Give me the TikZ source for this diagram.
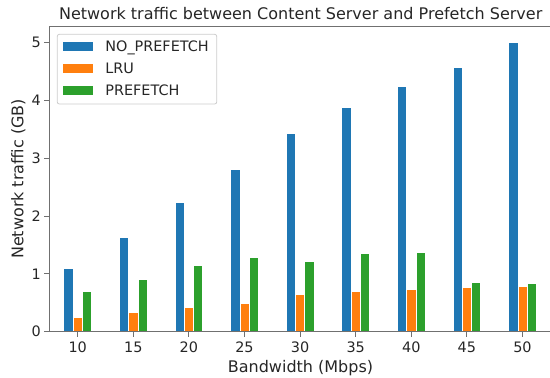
\documentclass[tikz,border=0pt]{standalone}
\usepackage{fontspec}
\setmainfont{DejaVu Sans}
\usepackage{xcolor}
\usetikzlibrary{positioning}

\definecolor{noprefetch}{HTML}{1F77B4}
\definecolor{lru}{HTML}{FF7F0E}
\definecolor{prefetch}{HTML}{2CA02C}
\definecolor{inkgray}{HTML}{262626}
\definecolor{spinegray}{HTML}{707070}

\begin{document}
\begin{tikzpicture}[
		x=1pt, y=1pt,
		text=inkgray,
		bar/.style={
			draw=white,
			line width=0.7pt
		},
		spine/.style={
			draw=spinegray,
			line width=1.2pt
		},
		tickmark/.style={
			draw=spinegray,
			line width=1pt
		},
		ticklabel/.style={
			inner sep=0pt,
			font=\fontsize{14.4}{17}\selectfont
		},
		axislabel/.style={
			inner sep=0pt,
			font=\fontsize{16}{19}\selectfont
		},
		legendbox/.style={
			draw=black!20,
			fill=white,
			rounded corners=2pt,
			line width=0.8pt,
			minimum width=159.4pt,
			minimum height=69.7pt
		},
		legendkey/.style={
			inner sep=0pt,
			minimum width=29.4pt,
			minimum height=8.6pt
		},
		legendtext/.style={
			inner sep=0pt,
			text height=10.5pt,
			text depth=0pt,
			font=\fontsize{14.4}{17}\selectfont
		}
		]
		
		\useasboundingbox (0,0) rectangle (550,378);
		
		% Title and axis labels
		\node[axislabel, anchor=base] (title) at (300.7,358)
		{Network traffic between Content Server and Prefetch Server};
		\node[axislabel, anchor=base] (xlabel) at (300.5,5.3) {Bandwidth (Mbps)};
		\node[axislabel, anchor=base, rotate=90] (ylabel) at (23.3,199) {Network traffic (GB)};
		
		% Plot area in data units (Mbps, GB)
		\begin{scope}[xshift=-33.5pt, yshift=46.3pt, x=11.12pt, y=57.8pt]
			
			% Bars
			\foreach \bw/\nop/\lruv/\pre in {10/1.10/0.254/0.70, 15/1.63/0.335/0.90,
				20/2.23/0.427/1.15, 25/2.815/0.49/1.287, 30/3.426/0.647/1.223,
				35/3.888/0.70/1.36, 40/4.239/0.739/1.379, 45/4.567/0.761/0.86,
				50/5.0/0.785/0.837}
			{
				\filldraw[bar, fill=noprefetch] (\bw-1.254,0) rectangle (\bw-0.418,\nop);
				\filldraw[bar, fill=lru] (\bw-0.418,0) rectangle (\bw+0.418,\lruv);
				\filldraw[bar, fill=prefetch] (\bw+0.418,0) rectangle (\bw+1.254,\pre);
			}
			
			% Spines
			\coordinate (origin) at (7.446,0);
			\coordinate (corner) at (7.446,5.28);
			\draw[spine] (corner) -- (origin) -- ++(543pt,0);
			\draw[spine] (corner) -- ++(543pt,0);
			
			% Ticks
			\foreach \bw in {10,15,...,50} {
				\draw[tickmark] (\bw,0) -- ++(0,-5pt);
				\node[ticklabel, anchor=base, yshift=-21pt] (xtick\bw) at (\bw,0) {\bw};
			}
			\foreach \v in {0,...,5} {
				\draw[tickmark] (7.446,\v) -- ++(-5pt,0);
				\node[ticklabel, anchor=east, xshift=-8.3pt] (ytick\v) at (7.446,\v) {\v};
			}
		\end{scope}
		
		% Legend
		\node[legendbox] (legend) at (137,308.85) {};
		\node[legendkey, fill=noprefetch] (keyA) at (78,331.7) {};
		\node[legendkey, fill=lru] (keyB) at (78,309.5) {};
		\node[legendkey, fill=prefetch] (keyC) at (78,287.5) {};
		\node[legendtext, right=12.3pt of keyA] (textA) {NO\_PREFETCH};
		\node[legendtext, right=12.3pt of keyB] (textB) {LRU};
		\node[legendtext, right=12.3pt of keyC] (textC) {PREFETCH};
		
	\end{tikzpicture}
\end{document}
